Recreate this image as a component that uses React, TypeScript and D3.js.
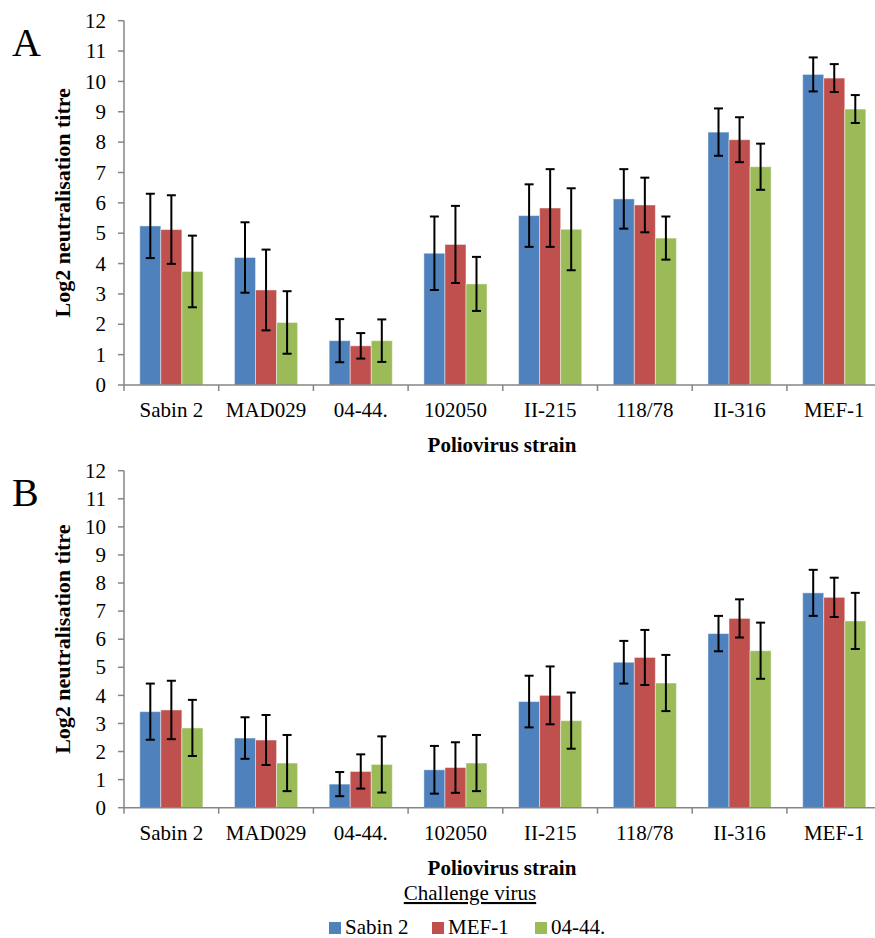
import React from "react";
import * as d3 from "d3";

// Poliovirus strains on the x axis
const strains = ["Sabin 2", "MAD029", "04-44.", "102050", "II-215", "118/78", "II-316", "MEF-1"];
// Challenge viruses (series)
const challengeViruses = ["Sabin 2", "MEF-1", "04-44."];
const seriesColors = ["#4F81BD", "#C0504D", "#9BBB59"];
const yTicks = [0, 1, 2, 3, 4, 5, 6, 7, 8, 9, 10, 11, 12];

// Panel A: mean log2 titres and error (± SD) per challenge virus
const aSabin2 = [5.24, 4.2, 1.46, 4.34, 5.58, 6.13, 8.33, 10.23];
const aMef1 = [5.12, 3.13, 1.29, 4.63, 5.83, 5.93, 8.08, 10.11];
const a0444 = [3.74, 2.06, 1.46, 3.33, 5.13, 4.84, 7.19, 9.09];
const aSabin2Err = [1.06, 1.16, 0.71, 1.21, 1.03, 0.98, 0.78, 0.56];
const aMef1Err = [1.13, 1.33, 0.42, 1.27, 1.28, 0.9, 0.74, 0.46];
const a0444Err = [1.18, 1.03, 0.7, 0.89, 1.35, 0.71, 0.76, 0.46];

// Panel B
const bSabin2 = [3.42, 2.48, 0.84, 1.35, 3.78, 5.18, 6.2, 7.65];
const bMef1 = [3.48, 2.41, 1.29, 1.43, 4.0, 5.35, 6.74, 7.49];
const b0444 = [2.84, 1.59, 1.54, 1.59, 3.1, 4.44, 5.59, 6.65];
const bSabin2Err = [1.0, 0.74, 0.43, 0.85, 0.92, 0.76, 0.63, 0.82];
const bMef1Err = [1.04, 0.89, 0.61, 0.9, 1.03, 0.98, 0.68, 0.7];
const b0444Err = [1.0, 1.0, 1.0, 1.0, 1.0, 1.0, 1.0, 1.0];

const FONT = "'Liberation Serif', 'Times New Roman', serif";
const AXIS_COLOR = "#868686";

type PanelProps = {
  label: string;
  top: number;
  bottom: number;
  values: number[][];
  errors: number[][];
};

const X_LEFT = 124;
const X_RIGHT = 881.6;

function Panel({ label, top, bottom, values, errors }: PanelProps) {
  const y = d3.scaleLinear().domain([0, 12]).range([bottom, top]);
  const x0 = d3.scaleBand<string>().domain(strains).range([X_LEFT, X_RIGHT]).padding(0);
  const x1 = d3
    .scaleBand<string>()
    .domain(challengeViruses)
    .range([0, x0.bandwidth()])
    .paddingInner(0)
    .paddingOuter(0.75);
  const bw = x1.bandwidth();
  const capHalf = 4.5;
  const midY = (top + bottom) / 2;

  return (
    <g>
      <text x={12} y={top + 35} fontFamily={FONT} fontSize={40} fill="#000">
        {label}
      </text>

      {/* bars */}
      {strains.map((s, i) => (
        <g key={s} transform={`translate(${x0(s)},0)`}>
          {challengeViruses.map((c, j) => {
            const v = values[j][i];
            return (
              <rect
                key={c}
                x={x1(c)}
                y={y(v)}
                width={bw}
                height={y(0) - y(v)}
                fill={seriesColors[j]}
                stroke="#ffffff"
                strokeOpacity={0.45}
                strokeWidth={1}
              />
            );
          })}
        </g>
      ))}

      {/* axes */}
      <line x1={X_LEFT} x2={X_LEFT} y1={top} y2={bottom} stroke={AXIS_COLOR} strokeWidth={1.5} />
      <line x1={X_LEFT} x2={X_RIGHT} y1={bottom} y2={bottom} stroke={AXIS_COLOR} strokeWidth={1.5} />
      {yTicks.map((t) => (
        <g key={t}>
          <line x1={X_LEFT - 6} x2={X_LEFT} y1={y(t)} y2={y(t)} stroke={AXIS_COLOR} strokeWidth={1.5} />
          <text
            x={X_LEFT - 18}
            y={y(t)}
            dy="0.34em"
            textAnchor="end"
            fontFamily={FONT}
            fontSize={21}
            fill="#000"
          >
            {t}
          </text>
        </g>
      ))}
      {strains.map((s) => (
        <line
          key={`t${s}`}
          x1={x0(s) as number}
          x2={x0(s) as number}
          y1={bottom}
          y2={bottom + 6}
          stroke={AXIS_COLOR}
          strokeWidth={1.5}
        />
      ))}
      {strains.map((s) => (
        <text
          key={`l${s}`}
          x={(x0(s) as number) + x0.bandwidth() / 2}
          y={bottom + 32}
          textAnchor="middle"
          fontFamily={FONT}
          fontSize={21}
          fill="#000"
        >
          {s}
        </text>
      ))}

      {/* error bars */}
      {strains.map((s, i) => (
        <g key={`e${s}`} transform={`translate(${x0(s)},0)`}>
          {challengeViruses.map((c, j) => {
            const v = values[j][i];
            const e = errors[j][i];
            const cx = (x1(c) as number) + bw / 2;
            return (
              <g key={c} stroke="#000" strokeWidth={2}>
                <line x1={cx} x2={cx} y1={y(v + e)} y2={y(v - e)} />
                <line x1={cx - capHalf} x2={cx + capHalf} y1={y(v + e)} y2={y(v + e)} />
                <line x1={cx - capHalf} x2={cx + capHalf} y1={y(v - e)} y2={y(v - e)} />
              </g>
            );
          })}
        </g>
      ))}

      <text
        x={502}
        y={bottom + 67}
        textAnchor="middle"
        fontFamily={FONT}
        fontSize={21}
        fontWeight="bold"
        fill="#000"
      >
        Poliovirus strain
      </text>
      <text
        transform={`translate(70,${midY}) rotate(-90)`}
        textAnchor="middle"
        fontFamily={FONT}
        fontSize={22}
        fontWeight="bold"
        fill="#000"
      >
        Log2 neutralisation titre
      </text>
    </g>
  );
}

export default function App() {
  const legendItems = [
    { name: challengeViruses[0], x: 329 },
    { name: challengeViruses[1], x: 432 },
    { name: challengeViruses[2], x: 535 },
  ];
  return (
    <div style={{ position: "absolute", left: 0, top: 0 }}>
      <svg width={875} height={938} style={{ display: "block", background: "#fff" }}>
        <Panel
          label="A"
          top={20.7}
          bottom={385}
          values={[aSabin2, aMef1, a0444]}
          errors={[aSabin2Err, aMef1Err, a0444Err]}
        />
        <Panel
          label="B"
          top={470.7}
          bottom={807.7}
          values={[bSabin2, bMef1, b0444]}
          errors={[bSabin2Err, bMef1Err, b0444Err]}
        />

        <text x={470} y={900} textAnchor="middle" fontFamily={FONT} fontSize={21} fill="#000" textDecoration="underline">
          Challenge virus
        </text>
        {legendItems.map((it, j) => (
          <g key={it.name}>
            <rect x={it.x} y={922} width={12} height={12} fill={seriesColors[j]} />
            <text x={it.x + 16} y={934} fontFamily={FONT} fontSize={21} fill="#000">
              {it.name}
            </text>
          </g>
        ))}
      </svg>
    </div>
  );
}
